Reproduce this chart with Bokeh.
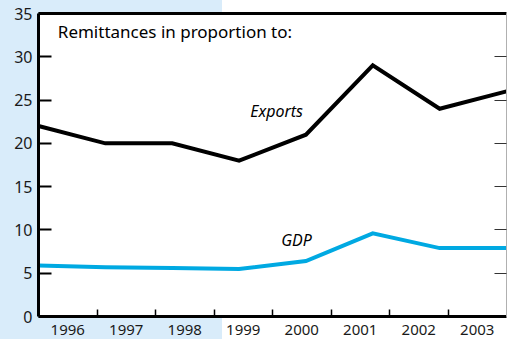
from bokeh.plotting import figure
from bokeh.models import Range1d, FixedTicker, LinearAxis, Label
from bokeh.embed import file_html
from bokeh.resources import INLINE

years = ["1996", "1997", "1998", "1999", "2000", "2001", "2002", "2003"]
exports = [22, 20, 20, 18, 21, 29, 24, 26]
gdp = [5.9, 5.7, 5.6, 5.5, 6.4, 9.6, 7.9, 7.9]
y_ticks = [0, 5, 10, 15, 20, 25, 30, 35]

n = len(years)
# data points spread evenly across the full width of the year bands
xs = [i * n / (n - 1) for i in range(n)]
centers = [k + 0.5 for k in range(n)]
edges = [k for k in range(1, n)]

FONT = "Noto Sans"
LIGHT = "#d9ecfa"
BLUE = "#00a9e2"

p = figure(width=508, height=339, output_backend="svg", toolbar_location=None,
           x_range=Range1d(0, n), y_range=Range1d(0, 35),
           min_border_left=38, min_border_right=2, min_border_top=13, min_border_bottom=23,
           background_fill_color="white", border_fill_color=None,
           outline_line_color=None)
p.styles = {"background": f"linear-gradient(to right, {LIGHT} 222px, #ffffff 222px)"}
p.grid.visible = False

# x axis
xa = p.xaxis[0]
xa.ticker = FixedTicker(ticks=centers, minor_ticks=edges)
xa.major_label_overrides = {c: y for c, y in zip(centers, years)}
xa.major_tick_line_color = None
xa.minor_tick_in = 7
xa.minor_tick_out = 0
xa.minor_tick_line_color = "black"
xa.minor_tick_line_width = 1.5
xa.axis_line_width = 3
xa.axis_line_color = "black"
xa.major_label_text_font = FONT
xa.major_label_text_font_size = "15px"
xa.major_label_text_color = "#1a1a1a"
xa.major_label_standoff = 2

# y axis
ya = p.yaxis[0]
ya.ticker = FixedTicker(ticks=y_ticks)
ya.minor_tick_line_color = None
ya.major_tick_in = 13
ya.major_tick_out = 0
ya.major_tick_line_width = 2
ya.major_tick_line_color = "black"
ya.axis_line_width = 3
ya.axis_line_color = "black"
ya.major_label_text_font = FONT
ya.major_label_text_font_size = "16px"
ya.major_label_text_color = "#1a1a1a"
ya.major_label_standoff = 6

# right axis (ticks only, drawn as minor ticks so no labels exist)
ra = LinearAxis(ticker=FixedTicker(ticks=[], minor_ticks=y_ticks[1:-1]))
ra.major_tick_line_color = None
ra.minor_tick_in = 12
ra.minor_tick_out = 0
ra.minor_tick_line_color = "#333333"
ra.minor_tick_line_width = 1.2
ra.axis_line_color = "#b0b0b0"
ra.axis_line_width = 1
p.add_layout(ra, "right")

# top axis (line only)
ta = LinearAxis(ticker=FixedTicker(ticks=[]))
ta.major_tick_line_color = None
ta.minor_tick_line_color = None
ta.axis_line_width = 3
ta.axis_line_color = "black"
p.add_layout(ta, "above")

p.line(xs, exports, line_color="black", line_width=4, line_join="miter")
p.line(xs, gdp, line_color=BLUE, line_width=4, line_join="miter")

p.add_layout(Label(x=0.33, y=34.3, text="Remittances in proportion to:",
                   text_font=FONT, text_font_size="17px", text_color="black",
                   text_baseline="top"))
p.add_layout(Label(x=4.07, y=23.7, text="Exports", text_font=FONT,
                   text_font_size="16px", text_font_style="italic", text_color="black",
                   text_align="center", text_baseline="middle"))
p.add_layout(Label(x=4.41, y=8.8, text="GDP", text_font=FONT,
                   text_font_size="16px", text_font_style="italic", text_color="black",
                   text_align="center", text_baseline="middle"))

open("out.html", "w").write(file_html(p, INLINE))
